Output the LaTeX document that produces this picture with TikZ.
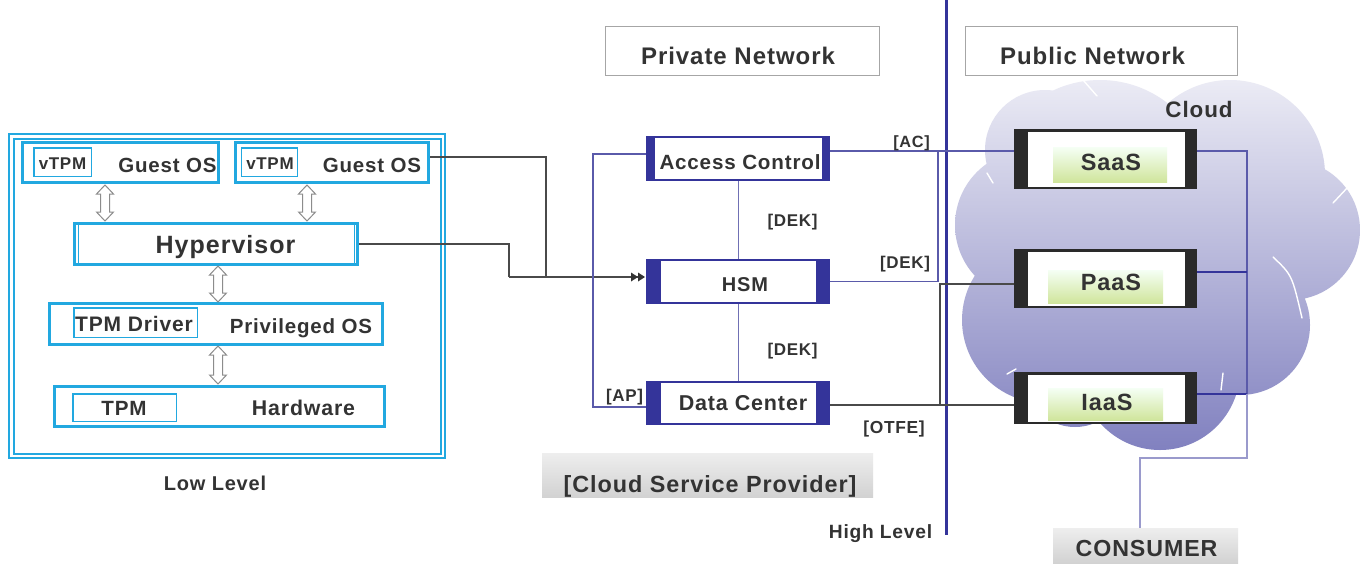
\documentclass[tikz,border=0pt]{standalone}
\usepackage{fontspec}
\setmainfont{Liberation Sans}[LetterSpace=4]
\usetikzlibrary{arrows.meta,calc}
\definecolor{cyanc}{HTML}{22A8E0}
\definecolor{navy}{HTML}{34349A}
\definecolor{txt}{HTML}{333333}
\definecolor{agray}{HTML}{8C8C8C}
\definecolor{bline}{HTML}{5A5AAA}
\definecolor{lline}{HTML}{7070B4}
\definecolor{dline}{HTML}{4A4A4A}
\definecolor{barc}{HTML}{2A2A2A}
\definecolor{cloudtop}{HTML}{EEEEF6}
\definecolor{cloudmid}{HTML}{B5B5D8}
\definecolor{cloudbot}{HTML}{7E7EBE}
\definecolor{lav}{HTML}{9A9ACC}
\newcommand\fsz[1]{\fontsize{#1}{#1}\selectfont}
\begin{document}
\begin{tikzpicture}[x=1pt,y=-1pt,
 lbl/.style={anchor=base, text=txt, inner sep=0pt, font=\bfseries\fsz{#1}},
 cbox/.style={draw=cyanc, line width=3pt, fill=white, inner sep=0pt},
 cin/.style={draw=cyanc, line width=1.5pt, fill=white, inner sep=0pt},
 nbox/.style 2 args={draw=navy, line width=2pt, fill=white, inner sep=0pt,
   minimum width=182pt, minimum height=43pt,
   path picture={\fill[navy] (path picture bounding box.south west) rectangle ([xshift=#1]path picture bounding box.north west);
                 \fill[navy] (path picture bounding box.south east) rectangle ([xshift=-#2]path picture bounding box.north east);}},
 sbox/.style={draw=barc, line width=2.5pt, fill=white, inner sep=0pt, minimum width=180pt,
   path picture={\fill[barc] (path picture bounding box.south west) rectangle ([xshift=12pt]path picture bounding box.north west);
                 \fill[barc] (path picture bounding box.south east) rectangle ([xshift=-11pt]path picture bounding box.north east);}},
 grn/.style={inner sep=0pt, top color=green!4!white, bottom color={rgb,255:red,208;green,229;blue,156}},
 gbox/.style={draw=gray!70, line width=0.8pt, fill=white, inner sep=0pt},
 graybox/.style={inner sep=0pt, top color={rgb,255:red,238;green,238;blue,238}, bottom color={rgb,255:red,210;green,210;blue,210}},
 bl/.style={draw=bline, line width=1.2pt},
 ll/.style={draw=lline, line width=1pt},
 dl/.style={draw=dline, line width=1.3pt},
 gl/.style={draw=dline, line width=1.6pt},
 pics/hdbl/.style={code={\draw[agray, line width=1pt, fill=white] (0,0) -- (8.5,9) -- (4.5,9) -- (4.5,#1-9) -- (8.5,#1-9) -- (0,#1) -- (-8.5,#1-9) -- (-4.5,#1-9) -- (-4.5,9) -- (-8.5,9) -- cycle;}}
]
\useasboundingbox (0,0) rectangle (1365,563);
\fill[white] (0,0) rectangle (1365,563);

% ---------- cloud ----------
\begin{scope}
\clip (1100,190) circle[radius=110] (1230,175) circle[radius=95] (1290,230) circle[radius=70]
      (1030,225) circle[radius=75] (1045,320) circle[radius=83] (1075,375) circle[radius=52]
      (1160,370) circle[radius=80] (1240,325) circle[radius=70] (1150,280) circle[radius=110]
      (1045,150) circle[radius=60];
\shade[top color=cloudtop, middle color=cloudmid, bottom color=cloudbot] (940,70) rectangle (1365,460);
\end{scope}
\begin{scope}[white, line width=1.4pt, line cap=round]
\draw (987,173) -- (993,183);
\draw (1083,80) -- (1097,96);
\draw (1333,203) -- (1348,187);
\draw (1273,257) .. controls (1292,275) .. (1302,318);
\draw (1223,373) -- (1221,390);
\draw (1007,374) -- (1016,369);
\end{scope}

% ---------- divider ----------
\coordinate (dtop) at (946.5,0);
\coordinate (dbot) at (946.5,535);
\draw[navy, line width=2.2pt] (dtop) -- (dbot);

% ---------- header boxes ----------
\node[gbox, minimum width=274pt, minimum height=49pt] (privbox) at (742,50.5) {};
\node[lbl=24] (privt) at (738,64) {Private Network};
\node[gbox, minimum width=272pt, minimum height=49pt] (pubbox) at (1101,50.5) {};
\node[lbl=24] (pubt) at (1092.5,64) {Public Network};

% ---------- low level ----------
\node[draw=cyanc, line width=2pt, double=white, double distance=2.5pt, inner sep=0pt,
      minimum width=431.5pt, minimum height=319.5pt] (outer) at (227,296) {};
\node[cbox, minimum width=196pt, minimum height=40pt] (g1) at (120.5,162.5) {};
\node[cbox, minimum width=193pt, minimum height=40pt] (g2) at (332,162.5) {};
\node[cin, minimum width=57.5pt, minimum height=28.5pt] (v1) at (62.5,162) {};
\node[cin, minimum width=56pt, minimum height=28.5pt] (v2) at (269.5,162) {};
\node[cbox, minimum width=283pt, minimum height=41pt] (hyp) at (216,244) {};
\draw[cyanc, line width=1pt] ([xshift=5]hyp.north west) -- ([xshift=5]hyp.south west);
\draw[cyanc, line width=1pt] ([xshift=-5]hyp.north east) -- ([xshift=-5]hyp.south east);
\node[cbox, minimum width=333pt, minimum height=41pt] (priv) at (216,324) {};
\node[cin, minimum width=123.5pt, minimum height=29.5pt] (drv) at (135.5,322.5) {};
\node[cbox, minimum width=330pt, minimum height=40pt] (hw) at (219.5,406.5) {};
\node[cin, minimum width=103.5pt, minimum height=27.5pt] (tpm) at (124.5,407.5) {};

\node[lbl=17] (v1t) at (62.5,169) {vTPM};
\node[lbl=20.5] (g1t) at (167.5,172.7) {Guest OS};
\node[lbl=17] (v2t) at (270,169) {vTPM};
\node[lbl=20.5] (g2t) at (372,172.7) {Guest OS};
\node[lbl=25] (hypt) at (225.5,253) {Hypervisor};
\node[lbl=21] (drvt) at (134,331) {TPM Driver};
\node[lbl=20.5] (privt2) at (301,333) {Privileged OS};
\node[lbl=20.6] (tpmt) at (124,415) {TPM};
\node[lbl=21.3] (hwt) at (303.5,415) {Hardware};
\node[lbl=20] (lowt) at (215,490) {Low Level};

\pic at (105,185) {hdbl=36};
\pic at (307,185) {hdbl=36};
\pic at (218,266) {hdbl=36};
\pic at (218,346) {hdbl=38};

% ---------- private network ----------
\node[nbox={8pt}{7pt}] (ac) at (738,158.5) {};
\node[nbox={14pt}{13pt}] (hsm) at (738,281.5) {};
\node[nbox={14pt}{13pt}, minimum height=42pt] (dc) at (738,403) {};

% connectors private side
\coordinate (l1) at (593,154);
\coordinate (l2) at (593,407);
\coordinate (m1) at (546,277);
\coordinate (m2) at (509,277);
\coordinate (j1) at (938,151);
\coordinate (j2) at (938,281.5);
\coordinate (k1) at (940,284);
\coordinate (k2) at (940,405);
\coordinate (r1) at (1247,151);
\coordinate (r2) at (1247,272);
\coordinate (r3) at (1247,394);
\coordinate (r4) at (1247,458);
\coordinate (r5) at (1140,458);

\draw[gl] ([yshift=5.5]g2.east) -| (m1);
\draw[gl] (hyp.east) -| (m2);
\path ([yshift=4.5]hsm.west) coordinate (hin);
\draw[gl] (m2) -- ([xshift=-6]hin);
\fill[black!80] ([xshift=-1]hin) -- ++(-7,-4.5) -- ++(0,9) -- cycle;
\fill[black!80] ([xshift=-8]hin) -- ++(-7,-4.5) -- ++(0,9) -- cycle;

\draw[bl] ([yshift=4.5]ac.west) -- (l1) -- (l2) -- ([yshift=-4]dc.west);
\draw[ll] (ac.south) -- (hsm.north);
\draw[ll] (hsm.south) -- (dc.north);

% ---------- cloud boxes ----------
\node[sbox, minimum height=57.5pt] (saas) at (1105.5,159) {};
\node[sbox, minimum height=56.5pt] (paas) at (1105.5,278.5) {};
\node[sbox, minimum height=49.5pt] (iaas) at (1105.5,398) {};
\node[grn, minimum width=114pt, minimum height=35pt] (saasg) at (1110,164.5) {};
\node[grn, minimum width=115pt, minimum height=33pt] (paasg) at (1105.5,286.5) {};
\node[grn, minimum width=115pt, minimum height=32pt] (iaasg) at (1105.5,404) {};

\draw[bl] ([yshift=7.5]ac.east) -- ([yshift=8]saas.west);
\draw[bl] (hsm.east) -- (j2) -- (j1);
\draw[dl] ([yshift=-5.5]paas.west) -- (k1) -- (k2);
\draw[dl] ([yshift=-2]dc.east) -- ([yshift=-7]iaas.west);

\draw[bl] ([yshift=8]saas.east) -- (r1) -- (r3);
\draw[navy, line width=2.2pt] ([yshift=6.5]paas.east) -- (r2);
\draw[navy, line width=1.6pt] ([yshift=4]iaas.east) -- (r3);

% ---------- bottom labels ----------
\node[graybox, minimum width=331pt, minimum height=44pt] (csp) at (707.5,475) {};
\node[lbl=23.4] (cspt) at (710,492) {[Cloud Service Provider]};
\node[graybox, minimum width=185pt, minimum height=35pt] (cons) at (1145.5,545.5) {};
\draw[draw=lav, line width=1.2pt] (r3) -- (r4) -- (r5) -- (r5 |- cons.north);
\node[lbl=23.2] (const) at (1146.5,556) {CONSUMER};
\node[lbl=19.2] (hight) at (880.5,538) {High Level};

% ---------- texts ----------
\node[lbl=20.6] (act) at (740,169) {Access Control};
\node[lbl=20] (hsmt) at (745,291) {HSM};
\node[lbl=21.5] (dct) at (743,410) {Data Center};
\node[lbl=17] (dek1) at (792.5,226) {[DEK]};
\node[lbl=17] (dek2) at (792.5,355) {[DEK]};
\node[lbl=16.3] (acl) at (911.5,147) {[AC]};
\node[lbl=17] (dek3) at (905,268) {[DEK]};
\node[lbl=17] (apl) at (624.5,401) {[AP]};
\node[lbl=17.4] (otfe) at (894,433) {[OTFE]};
\node[lbl=22.4] (cloudt) at (1199,117) {Cloud};
\node[lbl=23.5] (saast) at (1111,170) {SaaS};
\node[lbl=23.5] (paast) at (1111,290) {PaaS};
\node[lbl=23.5] (iaast) at (1107,410) {IaaS};
\end{tikzpicture}
\end{document}
